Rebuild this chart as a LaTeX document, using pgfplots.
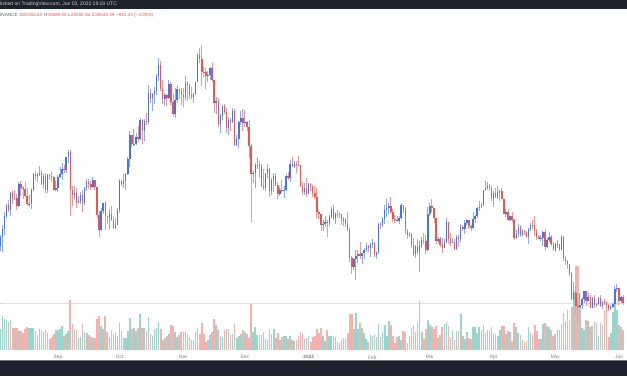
\documentclass[border=0pt]{standalone}
\usepackage{fontspec}
\setmainfont{Liberation Sans}
\usepackage{pgfplots}
\usepackage{pgfplotstable}
\pgfplotsset{compat=1.18}
\definecolor{upc}{RGB}{66,114,246}
\definecolor{dnc}{RGB}{239,83,80}
\colorlet{upw}{upc!62!white}
\colorlet{dnw}{dnc!62!white}
\definecolor{vup}{RGB}{152,213,206}
\definecolor{vdn}{RGB}{248,176,173}
\definecolor{tvdark}{RGB}{30,34,45}
\definecolor{lbl}{RGB}{120,123,134}
\definecolor{pline}{RGB}{248,190,190}
\pgfplotstableread{
d o h l c v
-28 38.2 39.9 37.5 39.7 21
-27 39.7 41.4 37.3 40.9 34
-26 40.9 43.4 39.9 42.8 31
-25 42.8 44.7 42.5 44.6 30
-24 44.6 45.3 43.4 43.8 28
-23 43.8 46.5 42.8 46.3 30
-22 46.3 46.7 44.7 45.6 22
-21 45.6 46.8 45.3 45.55 22
-20 45.55 46.2 43.8 44.4 22
-19 44.4 48.1 44.2 47.8 19
-18 47.8 48.2 45.9 47.1 19
-17 47.1 47.4 45.5 47.0 17
-16 47.0 48.0 45.7 45.9 21
-15 45.9 47.2 44.4 44.7 23
-14 44.7 46.0 44.2 44.75 22
-13 44.75 47.1 43.9 46.8 22
-12 46.8 49.4 46.6 49.3 22
-11 49.3 49.8 48.3 48.9 19
-10 48.9 49.5 48.1 49.3 15
-9 49.3 50.5 49.0 49.5 21
-8 49.5 49.9 47.6 47.7 20
-7 47.7 49.3 47.1 48.9 18
-6 48.9 49.4 46.3 46.9 20
-5 46.9 49.2 46.4 49.1 17
-4 49.1 49.3 48.4 48.9 11
-3 48.9 49.6 48.0 48.8 13
-2 48.8 48.9 46.9 46.9 16
-1 46.9 48.2 46.7 47.1 20
0 47.1 49.1 46.5 48.8 20
1 48.8 50.4 48.6 49.3 21
2 49.3 51.0 48.4 50.0 24
3 50.0 50.6 49.5 49.9 14
4 49.9 51.9 49.5 51.8 16
5 51.8 52.9 50.9 52.7 19
6 52.7 52.9 42.8 46.9 50
7 46.9 47.4 44.4 46.1 26
8 46.1 47.4 45.5 46.4 20
9 46.4 47.1 44.1 44.9 20
10 44.9 45.9 44.8 45.2 12
11 45.2 46.5 44.7 46.1 13
12 46.1 46.9 43.4 44.9 26
13 44.9 47.3 44.6 47.1 18
14 47.1 48.5 46.7 48.1 17
15 48.1 48.5 47.0 47.8 15
16 47.8 48.2 46.8 47.3 13
17 47.3 48.8 47.1 48.3 12
18 48.3 48.4 46.9 47.3 12
19 47.3 47.3 42.5 43.0 31
20 43.0 43.6 39.6 40.7 34
21 40.7 44.0 40.6 43.6 24
22 43.6 44.9 43.1 44.9 21
23 44.9 45.2 40.7 42.8 34
24 42.8 42.9 41.7 42.7 18
25 42.7 43.9 40.8 43.2 13
26 43.2 44.4 42.1 42.2 20
27 42.2 42.8 40.9 41.0 16
28 41.0 42.6 40.8 41.5 18
29 41.5 44.1 41.4 43.8 14
30 43.8 48.5 43.3 48.2 27
31 48.2 48.3 47.4 47.7 19
32 47.7 49.2 47.1 48.2 12
33 48.2 49.5 46.9 49.2 12
34 49.2 51.9 49.1 51.5 19
35 51.5 55.8 50.4 55.3 32
36 55.3 55.3 53.4 53.8 21
37 53.8 56.1 53.6 53.9 22
38 53.9 55.5 53.7 54.9 19
39 54.9 56.6 54.1 54.7 22
40 54.7 57.8 54.4 57.5 36
41 57.5 57.7 53.9 56.0 22
42 56.0 57.7 54.3 57.4 22
43 57.4 58.6 56.8 57.3 19
44 57.3 62.9 56.9 61.7 33
45 61.7 62.3 60.2 60.9 16
46 60.9 61.7 58.9 61.5 14
47 61.5 62.6 60.0 62.0 21
48 62.0 64.5 61.3 64.3 22
49 64.3 67.0 63.5 66.0 28
50 66.0 66.6 62.0 62.2 21
51 62.2 63.7 60.0 60.7 10
52 60.7 61.7 59.7 61.3 12
53 61.3 61.5 59.6 60.9 14
54 60.9 63.7 60.7 63.1 16
55 63.1 63.3 59.8 60.3 25
56 60.3 61.5 58.0 58.4 24
57 58.4 62.5 57.8 60.6 18
58 60.6 62.9 60.2 62.3 13
59 62.3 62.3 60.7 61.9 15
60 61.9 62.4 59.9 61.3 18
61 61.3 62.4 59.5 61.0 18
62 61.0 64.3 60.6 63.2 18
63 63.2 63.5 60.4 62.9 15
64 62.9 63.1 60.7 61.4 13
65 61.4 62.6 60.7 61.0 10
66 61.0 61.6 60.1 61.5 10
67 61.5 63.3 61.3 63.3 18
68 63.3 67.8 63.3 67.5 22
69 67.5 68.5 66.3 66.9 16
70 66.9 69.0 62.8 64.9 27
71 64.9 65.6 64.1 64.8 16
72 64.8 65.5 62.3 64.2 8
73 64.2 65.0 63.4 64.4 10
74 64.4 65.6 63.6 65.5 15
75 65.5 66.4 63.4 63.6 18
76 63.6 63.6 58.6 60.1 31
77 60.1 61.0 58.4 60.4 25
78 60.4 60.9 56.5 56.9 20
79 56.9 58.4 55.6 58.1 14
80 58.1 59.9 57.5 59.7 13
81 59.7 60.0 58.5 58.7 20
82 58.7 59.3 55.6 56.3 21
83 56.3 58.0 55.3 57.6 21
84 57.6 57.9 55.8 57.2 15
85 57.2 59.4 57.0 58.9 16
86 58.9 59.2 53.5 53.7 26
87 53.7 55.3 53.6 54.7 12
88 54.7 57.4 53.3 57.3 14
89 57.3 58.9 56.7 57.8 16
90 57.8 59.2 55.9 57.0 20
91 57.0 59.1 56.5 57.2 18
92 57.2 57.4 55.8 56.5 16
93 56.5 57.6 51.7 53.6 12
94 53.6 53.9 42.0 49.2 46
95 49.2 49.7 47.9 49.4 18
96 49.4 50.9 47.1 50.6 23
97 50.6 51.9 50.0 50.65 15
98 50.65 51.2 48.6 50.5 15
99 50.5 50.8 47.3 47.5 15
100 47.5 50.1 46.9 47.1 18
101 47.1 49.5 46.6 49.4 11
102 49.4 50.8 48.7 50.1 10
103 50.1 50.2 45.7 46.7 21
104 46.7 48.7 46.0 48.4 16
105 48.4 49.5 46.5 48.9 21
106 48.9 49.4 47.5 47.6 12
107 47.6 48.0 45.5 46.2 17
108 46.2 47.3 45.9 46.8 10
109 46.8 48.3 46.4 46.7 13
110 46.7 47.5 45.6 46.9 14
111 46.9 49.3 46.6 49.0 14
112 49.0 49.6 48.4 48.6 11
113 48.6 51.4 48.1 50.8 14
114 50.8 51.9 50.4 50.4 10
115 50.4 51.2 50.2 50.8 9
116 50.8 51.3 49.4 50.7 10
117 50.7 52.1 50.5 50.65 14
118 50.65 50.7 47.3 47.5 18
119 47.5 48.1 46.1 46.5 16
120 46.5 47.9 46.0 47.1 11
121 47.1 48.6 45.7 46.2 12
122 46.2 47.9 46.2 47.7 14
123 47.7 47.9 46.7 47.3 8
124 47.3 47.6 45.7 46.4 13
125 46.4 47.5 45.5 45.8 14
126 45.8 47.1 42.5 43.4 21
127 43.4 43.8 42.4 43.1 17
128 43.1 43.2 40.6 41.5 22
129 41.5 42.3 40.5 41.7 14
130 41.7 42.8 41.2 41.9 9
131 41.9 42.2 39.7 41.8 20
132 41.8 43.0 41.3 42.7 14
133 42.7 44.3 42.5 43.9 14
134 43.9 44.5 42.3 42.6 14
135 42.6 43.4 41.7 43.1 13
136 43.1 43.8 42.6 43.15 8
137 43.15 43.5 42.6 43.1 7
138 43.1 43.2 41.5 42.2 10
139 42.2 42.7 41.3 42.4 12
140 42.4 42.6 41.1 41.7 12
141 41.7 43.5 40.6 40.7 17
142 40.7 41.1 35.8 36.5 36
143 36.5 36.8 34.0 35.1 36
144 35.1 36.5 34.6 36.3 21
145 36.3 37.6 33.0 36.7 37
146 36.7 37.6 35.7 37.0 21
147 37.0 38.9 36.3 36.8 27
148 36.8 37.2 35.5 37.2 22
149 37.2 38.0 36.2 37.7 17
150 37.7 38.7 37.3 38.2 11
151 38.2 38.4 37.4 37.9 8
152 37.9 38.7 36.6 38.5 15
153 38.5 39.3 38.0 38.7 14
154 38.7 38.9 36.6 36.9 15
155 36.9 37.4 36.2 37.3 13
156 37.3 41.8 37.0 41.6 26
157 41.6 41.9 40.9 41.4 13
158 41.4 42.7 41.1 42.4 18
159 42.4 44.5 41.6 43.8 25
160 43.8 45.5 42.7 44.0 14
161 44.0 44.8 43.1 44.4 29
162 44.4 45.8 43.2 43.5 25
163 43.5 43.9 42.0 42.4 14
164 42.4 43.0 41.8 42.2 7
165 42.2 42.8 41.9 42.1 13
166 42.1 42.9 41.6 42.5 14
167 42.5 44.8 42.4 44.5 10
168 44.5 44.6 43.3 43.9 19
169 43.9 44.2 40.1 40.5 18
170 40.5 40.9 39.4 40.0 7
171 40.0 40.4 39.6 40.1 14
172 40.1 40.2 38.0 38.4 22
173 38.4 39.5 36.8 37.0 25
174 37.0 38.4 36.4 38.3 18
175 38.3 39.3 37.0 37.3 28
176 37.3 39.0 34.3 38.3 49
177 38.3 39.7 38.0 39.2 18
178 39.2 40.3 38.6 39.1 11
179 39.1 39.9 37.0 37.7 21
180 37.7 44.2 37.5 43.2 30
181 43.2 44.9 42.8 44.4 25
182 44.4 45.4 43.4 44.0 23
183 44.0 44.1 41.8 42.5 21
184 42.5 42.5 38.6 39.1 24
185 39.1 39.6 38.7 39.4 12
186 39.4 39.6 38.1 38.4 15
187 38.4 39.5 37.2 37.9 23
188 37.9 39.4 37.9 38.7 26
189 38.7 42.6 38.7 41.9 28
190 41.9 42.0 38.5 39.4 24
191 39.4 40.2 38.2 38.7 13
192 38.7 39.5 38.7 38.8 19
193 38.8 39.3 37.6 37.8 10
194 37.8 39.9 37.6 39.7 19
195 39.7 39.9 38.1 39.3 19
196 39.3 41.7 38.9 41.1 36
197 41.1 41.5 40.5 40.9 14
198 40.9 42.3 40.1 41.8 11
199 41.8 42.4 41.5 42.2 18
200 42.2 42.3 40.9 41.3 12
201 41.3 41.5 40.5 41.0 11
202 41.0 43.4 40.9 42.4 23
203 42.4 43.0 41.8 42.9 23
204 42.9 44.2 42.6 44.0 17
205 44.0 45.1 43.6 44.3 23
206 44.3 44.8 44.1 44.5 20
207 44.5 46.9 44.4 46.8 25
208 46.8 48.2 46.7 47.1 17
209 47.1 48.1 46.9 47.4 20
210 47.4 47.7 46.6 47.1 20
211 47.1 47.6 45.2 45.5 23
212 45.5 46.7 44.2 46.3 17
213 46.3 47.2 45.6 45.8 16
214 45.8 47.4 45.5 46.4 14
215 46.4 46.9 45.1 46.6 20
216 46.6 47.2 45.4 45.5 24
217 45.5 45.5 43.1 43.2 24
218 43.2 43.9 42.7 43.4 16
219 43.4 43.9 42.1 42.3 19
220 42.3 42.8 42.1 42.8 18
221 42.8 43.4 42.0 42.2 9
222 42.2 42.4 39.2 39.5 27
223 39.5 40.7 39.3 40.1 23
224 40.1 41.6 39.6 41.1 17
225 41.1 41.5 39.6 39.9 15
226 39.9 40.9 39.8 40.6 10
227 40.6 40.7 39.9 40.4 8
228 40.4 40.6 39.5 39.7 9
229 39.7 41.0 38.5 40.8 23
230 40.8 41.8 40.6 41.5 17
231 41.5 42.2 40.9 41.4 15
232 41.4 42.9 39.8 40.5 25
233 40.5 40.8 39.2 39.7 19
234 39.7 39.9 39.3 39.4 11
235 39.4 39.9 39.0 39.5 11
236 39.5 40.6 38.2 40.4 26
237 40.4 40.8 37.7 38.1 27
238 38.1 39.5 37.9 39.2 24
239 39.2 40.4 38.9 39.7 23
240 39.7 39.9 38.2 38.6 20
241 38.6 38.8 37.6 37.6 14
242 37.6 38.7 37.4 38.5 16
243 38.5 39.2 38.0 38.55 20
244 38.55 38.6 37.5 37.7 20
245 37.7 40.0 37.7 39.7 26
246 39.7 39.8 35.9 36.5 37
247 36.5 36.7 35.3 36.0 29
248 36.0 36.1 34.8 35.5 40
249 35.5 35.5 33.7 34.0 30
250 34.0 34.3 30.0 30.1 43
251 30.1 32.7 29.7 31.0 59
252 31.0 32.2 27.8 29.1 84
253 29.1 30.1 26.7 29.0 84
254 29.0 31.1 28.8 29.3 43
255 29.3 30.3 28.6 30.1 22
256 30.1 31.4 29.5 31.3 20
257 31.3 31.3 29.1 29.9 30
258 29.9 31.0 29.8 30.4 29
259 30.4 30.7 28.7 28.7 23
260 28.7 30.5 28.7 30.3 24
261 30.3 30.8 28.7 29.2 28
262 29.2 29.6 29.0 29.4 27
263 29.4 30.4 29.2 30.3 14
264 30.3 30.7 29.0 29.1 27
265 29.1 29.8 28.6 29.7 25
266 29.7 30.2 29.3 29.5 40
267 29.5 29.9 28.0 29.2 40
268 29.2 29.4 28.3 28.6 13
269 28.6 29.2 28.5 29.0 17
270 29.0 29.5 28.8 29.4 38
271 29.4 32.2 29.3 31.7 53
272 31.7 32.4 31.2 31.8 40
273 31.8 31.9 29.3 29.8 25
274 29.8 30.6 29.6 30.45 23
275 30.45 30.7 29.28 29.54 20
}\btc

\pgfplotsset{
  upsel/.style={restrict expr to domain={\thisrow{c}-\thisrow{o}}{0.00001:1000}},
  dnsel/.style={restrict expr to domain={\thisrow{c}-\thisrow{o}}{-1000:-0.00001}},
}

\begin{document}
\begin{tikzpicture}[x=1pt,y=1pt]
\begin{axis}[scale only axis,
  width=627pt, height=330pt,
  xmin=-28.2, xmax=276.9, ymin=22.35, ymax=72.83,
  axis y line=none, axis x line*=bottom,
  x axis line style={draw=none},
  xtick={0,30,61,91,122,153,181,212,242,273},
  xticklabels={Sep,Oct,Nov,Dec,\textbf{2022},Feb,Mar,Apr,May,Jun},
  major tick length=0pt,
  xticklabel style={font=\fontsize{4.8}{5.5}\selectfont, text=lbl, anchor=center, inner sep=0pt, yshift=-7.3pt},
  unbounded coords=discard]
\coordinate (BL) at (rel axis cs:0,0);
% volume (pixel heights converted to price units: 6.537 px per 1000 USDT)
\addplot[upsel, color=vup, quiver={u=0, v=\thisrow{v}/6.537,
   every arrow/.append style={color=vup, draw=vup, line width=1.6pt, line cap=butt}}]
   table[x=d, y expr=22.35] {\btc};
\addplot[dnsel, color=vdn, quiver={u=0, v=\thisrow{v}/6.537,
   every arrow/.append style={color=vdn, draw=vdn, line width=1.6pt, line cap=butt}}]
   table[x=d, y expr=22.35] {\btc};
% last price line
\addplot[color=pline, line width=1pt, line cap=butt] table[x=d, y expr=29.54] {\btc};
% wicks
\addplot[upsel, color=upw, quiver={u=0, v=\thisrow{h}-\thisrow{l},
   every arrow/.append style={color=upw, draw=upw, line width=1pt, line cap=butt}}]
   table[x=d, y=l] {\btc};
\addplot[dnsel, color=dnw, quiver={u=0, v=\thisrow{h}-\thisrow{l},
   every arrow/.append style={color=dnw, draw=dnw, line width=1pt, line cap=butt}}]
   table[x=d, y=l] {\btc};
% bodies
\addplot[upsel, color=upc, quiver={u=0, v=\thisrow{c}-\thisrow{o},
   every arrow/.append style={color=upc, draw=upc, line width=1.4pt, line cap=butt}}]
   table[x=d, y=o] {\btc};
\addplot[dnsel, color=dnc, quiver={u=0, v=\thisrow{c}-\thisrow{o},
   every arrow/.append style={color=dnc, draw=dnc, line width=1.4pt, line cap=butt}}]
   table[x=d, y=o] {\btc};
\end{axis}
\pgfresetboundingbox
\path[use as bounding box] ([shift={(0pt,-26pt)}]BL) rectangle ([shift={(627pt,350pt)}]BL);
\fill[tvdark] ([shift={(0pt,341pt)}]BL) rectangle ([shift={(627pt,350pt)}]BL);
\fill[tvdark] ([shift={(0pt,-26pt)}]BL) rectangle ([shift={(627pt,-11pt)}]BL);
\fill[black!55] ([shift={(0pt,-11pt)}]BL) rectangle ([shift={(627pt,-10pt)}]BL);
\node[anchor=west, inner sep=0pt, font=\fontsize{5.0}{6}\selectfont, text=white!80!black] at ([shift={(0pt,345.5pt)}]BL) {lished on TradingView.com, Jun 03, 2022 19:19 UTC};
\node[anchor=west, inner sep=0pt, font=\fontsize{4.6}{5.5}\selectfont, text=black!65] at ([shift={(0pt,334.3pt)}]BL) {INANCE\hspace{2pt}O\textcolor{dnc}{30452.63}\hspace{1.8pt}H\textcolor{dnc}{30699.00}\hspace{1.8pt}L\textcolor{dnc}{29282.36}\hspace{1.8pt}C\textcolor{dnc}{29540.39}\hspace{1.8pt}\textcolor{dnc}{−912.23 (−3.00\%)}};
\end{tikzpicture}
\end{document}
